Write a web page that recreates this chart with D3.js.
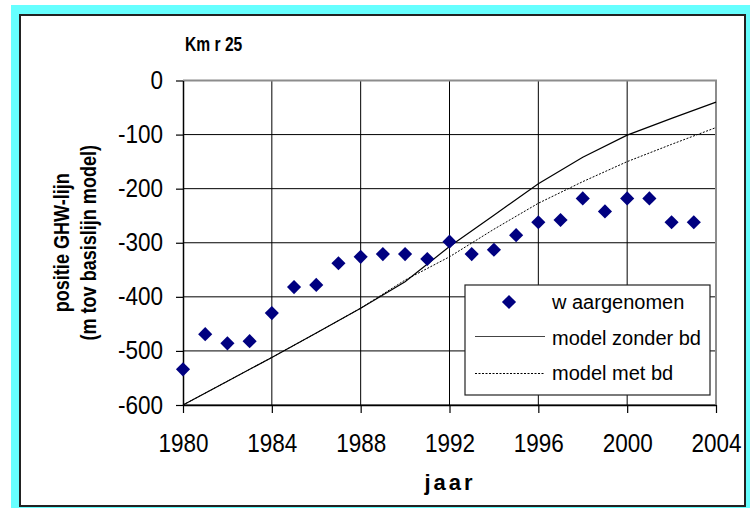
<!DOCTYPE html>
<html>
<head>
<meta charset="utf-8">
<script src="https://cdn.jsdelivr.net/npm/d3@7"></script>
<style>
  body { margin: 0; background: #fff; }
  svg { display: block; font-family: "Liberation Sans", Arial, sans-serif; }
</style>
</head>
<body>
<script>
const years = [1980, 1981, 1982, 1983, 1984, 1985, 1986, 1987, 1988, 1989, 1990, 1991,
    1992, 1993, 1994, 1995, 1996, 1997, 1998, 1999, 2000, 2001, 2002, 2003];
const observed = [-534, -469, -486, -482, -430, -382, -378, -338, -326, -321, -321, -330,
    -298, -321, -313, -286, -262, -258, -218, -242, -218, -218, -262, -262];

const modelYears = [1980, 1982, 1984, 1986, 1988, 1990, 1992, 1994, 1996, 1998, 2000, 2002, 2004];
const modelZonder = [-600, -556, -512, -467, -421, -372, -307, -249, -191, -142, -101, -70, -40];
const modelMet = [-600, -556, -512, -467, -421, -369, -326, -275, -227, -187, -150, -118, -87];

const xTicks = [1980, 1984, 1988, 1992, 1996, 2000, 2004];
const yTicks = [0, -100, -200, -300, -400, -500, -600];

const width = 750,
    height = 508;

const plot = { left: 183, right: 716, top: 80.5, bottom: 405 };

const x = d3.scaleLinear()
    .domain([1980, 2004])
    .range([plot.left, plot.right]);

const y = d3.scaleLinear()
    .domain([-600, 0])
    .range([plot.bottom, plot.top]);

const svg = d3.select('body').append('svg')
    .attr('width', width)
    .attr('height', height);

// cyan frame with white chart panel
svg.append('rect')
    .attr('x', 11).attr('y', 5)
    .attr('width', width - 11).attr('height', height - 5)
    .attr('fill', '#66ffff');

svg.append('rect')
    .attr('x', 20).attr('y', 15)
    .attr('width', 725).attr('height', 491)
    .attr('fill', '#fff')
    .attr('stroke', '#222')
    .attr('stroke-width', 2);

// squeeze text a bit, the original font is narrower than Arial
const condense = (sel, k) => sel.each(function() {
    const w = this.getComputedTextLength();
    d3.select(this)
        .attr('textLength', w * k)
        .attr('lengthAdjust', 'spacingAndGlyphs');
});

// grid
svg.append('g')
    .selectAll('line')
    .data(yTicks.slice(1))
    .join('line')
    .attr('x1', plot.left).attr('x2', plot.right)
    .attr('y1', d => y(d)).attr('y2', d => y(d))
    .attr('stroke', '#000')
    .attr('stroke-width', 1);

svg.append('g')
    .selectAll('line')
    .data(xTicks.slice(1, -1))
    .join('line')
    .attr('x1', d => x(d)).attr('x2', d => x(d))
    .attr('y1', plot.top).attr('y2', plot.bottom)
    .attr('stroke', '#000')
    .attr('stroke-width', 1);

// plot border top / right
svg.append('path')
    .attr('d', `M${plot.left},${plot.top}H${plot.right}V${plot.bottom}`)
    .attr('fill', 'none')
    .attr('stroke', '#8c8c8c')
    .attr('stroke-width', 2);

// axes
const yAxis = svg.append('g')
    .attr('transform', `translate(${plot.left},0)`)
    .call(d3.axisLeft(y).tickValues(yTicks).tickFormat(d => String(d)).tickSize(7).tickPadding(13).tickSizeOuter(0));

const xAxis = svg.append('g')
    .attr('transform', `translate(0,${plot.bottom})`)
    .call(d3.axisBottom(x).tickValues(xTicks).tickFormat(d3.format('d')).tickSize(8).tickPadding(21).tickSizeOuter(0));

[yAxis, xAxis].forEach(ax => {
    ax.select('.domain').attr('stroke', '#000').attr('stroke-width', 1.5);
    ax.selectAll('.tick line').attr('stroke', '#000').attr('stroke-width', 1.2);
    ax.selectAll('.tick text')
        .attr('fill', '#000')
        .style('font-size', '25px')
        .style('font-family', '"Liberation Sans", Arial, sans-serif')
        .call(condense, 0.9);
});

// model lines
const line = d3.line()
    .x((d, i) => x(modelYears[i]))
    .y(d => y(d));

svg.append('path')
    .datum(modelMet)
    .attr('d', line)
    .attr('fill', 'none')
    .attr('stroke', '#000')
    .attr('stroke-width', 1)
    .attr('stroke-dasharray', '2,1.5');

svg.append('path')
    .datum(modelZonder)
    .attr('d', line)
    .attr('fill', 'none')
    .attr('stroke', '#000')
    .attr('stroke-width', 1.2);

// observed points
const diamond = d3.symbol().type(d3.symbolSquare).size(100);

svg.append('g')
    .selectAll('path')
    .data(observed)
    .join('path')
    .attr('d', diamond)
    .attr('transform', (d, i) => `translate(${x(years[i])},${y(d)}) rotate(45)`)
    .attr('fill', '#000080');

// legend
const legend = svg.append('g');

legend.append('rect')
    .attr('x', 465).attr('y', 285)
    .attr('width', 245).attr('height', 110)
    .attr('fill', '#fff')
    .attr('stroke', '#222')
    .attr('stroke-width', 1.2);

legend.append('path')
    .attr('d', diamond)
    .attr('transform', 'translate(509,302) rotate(45)')
    .attr('fill', '#000080');

legend.append('line')
    .attr('x1', 475).attr('x2', 545)
    .attr('y1', 336.5).attr('y2', 336.5)
    .attr('stroke', '#444')
    .attr('stroke-width', 1.2);

legend.append('line')
    .attr('x1', 475).attr('x2', 545)
    .attr('y1', 373.5).attr('y2', 373.5)
    .attr('stroke', '#000')
    .attr('stroke-width', 1)
    .attr('stroke-dasharray', '2,1.5');

legend.selectAll('text')
    .data(['w aargenomen', 'model zonder bd', 'model met bd'])
    .join('text')
    .attr('x', 552)
    .attr('y', (d, i) => 309 + i * 35.5)
    .style('font-size', '20px')
    .text(d => d);

// titles
svg.append('text')
    .attr('x', 185).attr('y', 51)
    .style('font-size', '20px')
    .style('font-weight', 'bold')
    .text('Km r 25')
    .call(condense, 0.78);

const yLabel = svg.append('g')
    .attr('transform', `translate(0,${(plot.top + plot.bottom) / 2}) rotate(-90)`);

yLabel.selectAll('text')
    .data(['positie GHW-lijn', '(m tov basislijn model)'])
    .join('text')
    .attr('x', 0)
    .attr('y', (d, i) => 69 + i * 27)
    .attr('text-anchor', 'middle')
    .style('font-size', '22px')
    .style('font-weight', 'bold')
    .text(d => d)
    .call(condense, 0.82);

svg.append('text')
    .attr('x', 450).attr('y', 490)
    .attr('text-anchor', 'middle')
    .style('font-size', '22px')
    .style('font-weight', 'bold')
    .style('letter-spacing', '3px')
    .text('jaar');
</script>
</body>
</html>
